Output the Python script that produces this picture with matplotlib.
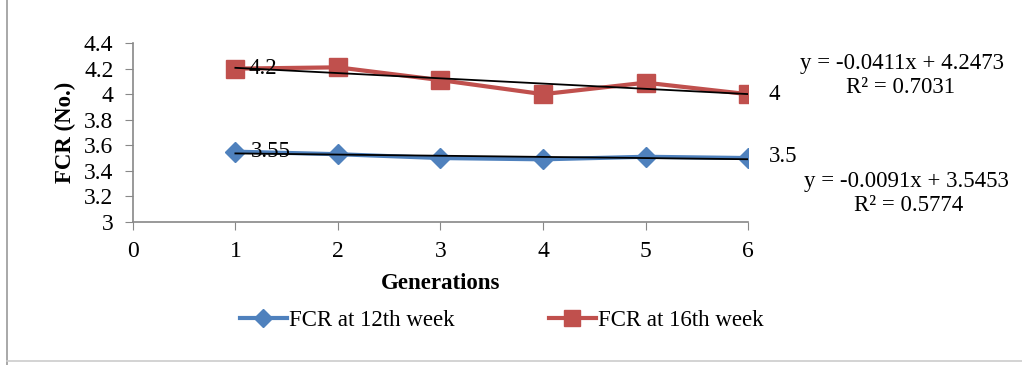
#!/usr/bin/env python3
"""FCR across generations with linear trendlines."""

import matplotlib
matplotlib.use('Agg')
import matplotlib.pyplot as plt
from matplotlib.lines import Line2D

generations = [1, 2, 3, 4, 5, 6]
fcr_12th = [3.55, 3.53, 3.50, 3.49, 3.51, 3.50]
fcr_16th = [4.20, 4.21, 4.11, 4.00, 4.09, 4.00]

# trendline coefficients as printed on the chart
trend_12th = (-0.0091, 3.5453)
trend_16th = (-0.0411, 4.2473)
eq_12th = ["y = -0.0091x + 3.5453", "R² = 0.5774"]
eq_16th = ["y = -0.0411x + 4.2473", "R² = 0.7031"]

y_ticks = [3, 3.2, 3.4, 3.6, 3.8, 4, 4.2, 4.4]
y_tick_labels = ['3', '3.2', '3.4', '3.6', '3.8', '4', '4.2', '4.4']

plt.rcParams['font.family'] = ['Liberation Serif', 'DejaVu Serif']

blue = '#4F81BD'
red = '#C0504D'
FS = 16.5

fig = plt.figure(figsize=(10.22, 3.65), dpi=100)
ax = fig.add_axes([0.130, 0.392, 0.602, 0.490])

ax.plot(generations, fcr_12th, color=blue, linewidth=3, marker='D',
        markersize=10, markeredgecolor=blue, zorder=3)
ax.plot(generations, fcr_16th, color=red, linewidth=3, marker='s',
        markersize=13, markeredgecolor=red, zorder=3)

for slope, icpt in (trend_12th, trend_16th):
    xs = [generations[0], generations[-1]]
    ax.plot(xs, [slope * x + icpt for x in xs], color='black',
            linewidth=1.3, zorder=4)

# data labels at the first and last points
ax.text(generations[0] + 0.13, fcr_16th[0], f"{fcr_16th[0]:g}", fontsize=FS,
        va='center', ha='left', zorder=5)
ax.text(generations[0] + 0.15, fcr_12th[0], f"{fcr_12th[0]:g}", fontsize=FS,
        va='center', ha='left', zorder=5)
ax.text(generations[-1] + 0.2, fcr_16th[-1], f"{fcr_16th[-1]:g}", fontsize=FS,
        va='center', ha='left')
ax.text(generations[-1] + 0.2, fcr_12th[-1] + 0.01, f"{fcr_12th[-1]:g}", fontsize=FS,
        va='center', ha='left')

ax.set_xlim(0, 6)
ax.set_ylim(3, 4.4)
ax.set_xticks(range(0, 7))
ax.set_yticks(y_ticks)
ax.set_yticklabels(y_tick_labels)
ax.tick_params(axis='both', labelsize=17, color='#888888', length=6, direction='out')
ax.tick_params(axis='x', pad=8)
ax.tick_params(axis='y', pad=8)
for side in ('top', 'right'):
    ax.spines[side].set_visible(False)
for side in ('left', 'bottom'):
    ax.spines[side].set_color('#888888')
    ax.spines[side].set_linewidth(1.2)

ax.set_xlabel('Generations', fontsize=FS, fontweight='bold', labelpad=8)
ax.set_ylabel('FCR (No.)', fontsize=FS, fontweight='bold', labelpad=6)

# trendline equations
fig.text(0.883, 0.827, eq_16th[0], fontsize=FS, ha='center', va='center')
fig.text(0.881, 0.759, eq_16th[1], fontsize=FS, ha='center', va='center')
fig.text(0.887, 0.504, eq_12th[0], fontsize=FS, ha='center', va='center')
fig.text(0.889, 0.436, eq_12th[1], fontsize=FS, ha='center', va='center')

handles = [
    Line2D([], [], color=blue, linewidth=3, marker='D', markersize=9),
    Line2D([], [], color=red, linewidth=3, marker='s', markersize=12),
]
fig.legend(handles, ['FCR at 12th week', 'FCR at 16th week'],
           loc='center', bbox_to_anchor=(0.491, 0.123), ncol=2, frameon=False,
           fontsize=FS, handlelength=2.05, handletextpad=0.1, columnspacing=4.1)

# outer chart frame (partially visible in the source image)
fig.add_artist(Line2D([0.007, 0.007], [0.0, 1.0], color='#999999', linewidth=1.2,
                      transform=fig.transFigure))
fig.add_artist(Line2D([0.007, 1.0], [0.01, 0.01], color='#cccccc', linewidth=1.2,
                      transform=fig.transFigure))

fig.savefig('out.png', dpi=100)
